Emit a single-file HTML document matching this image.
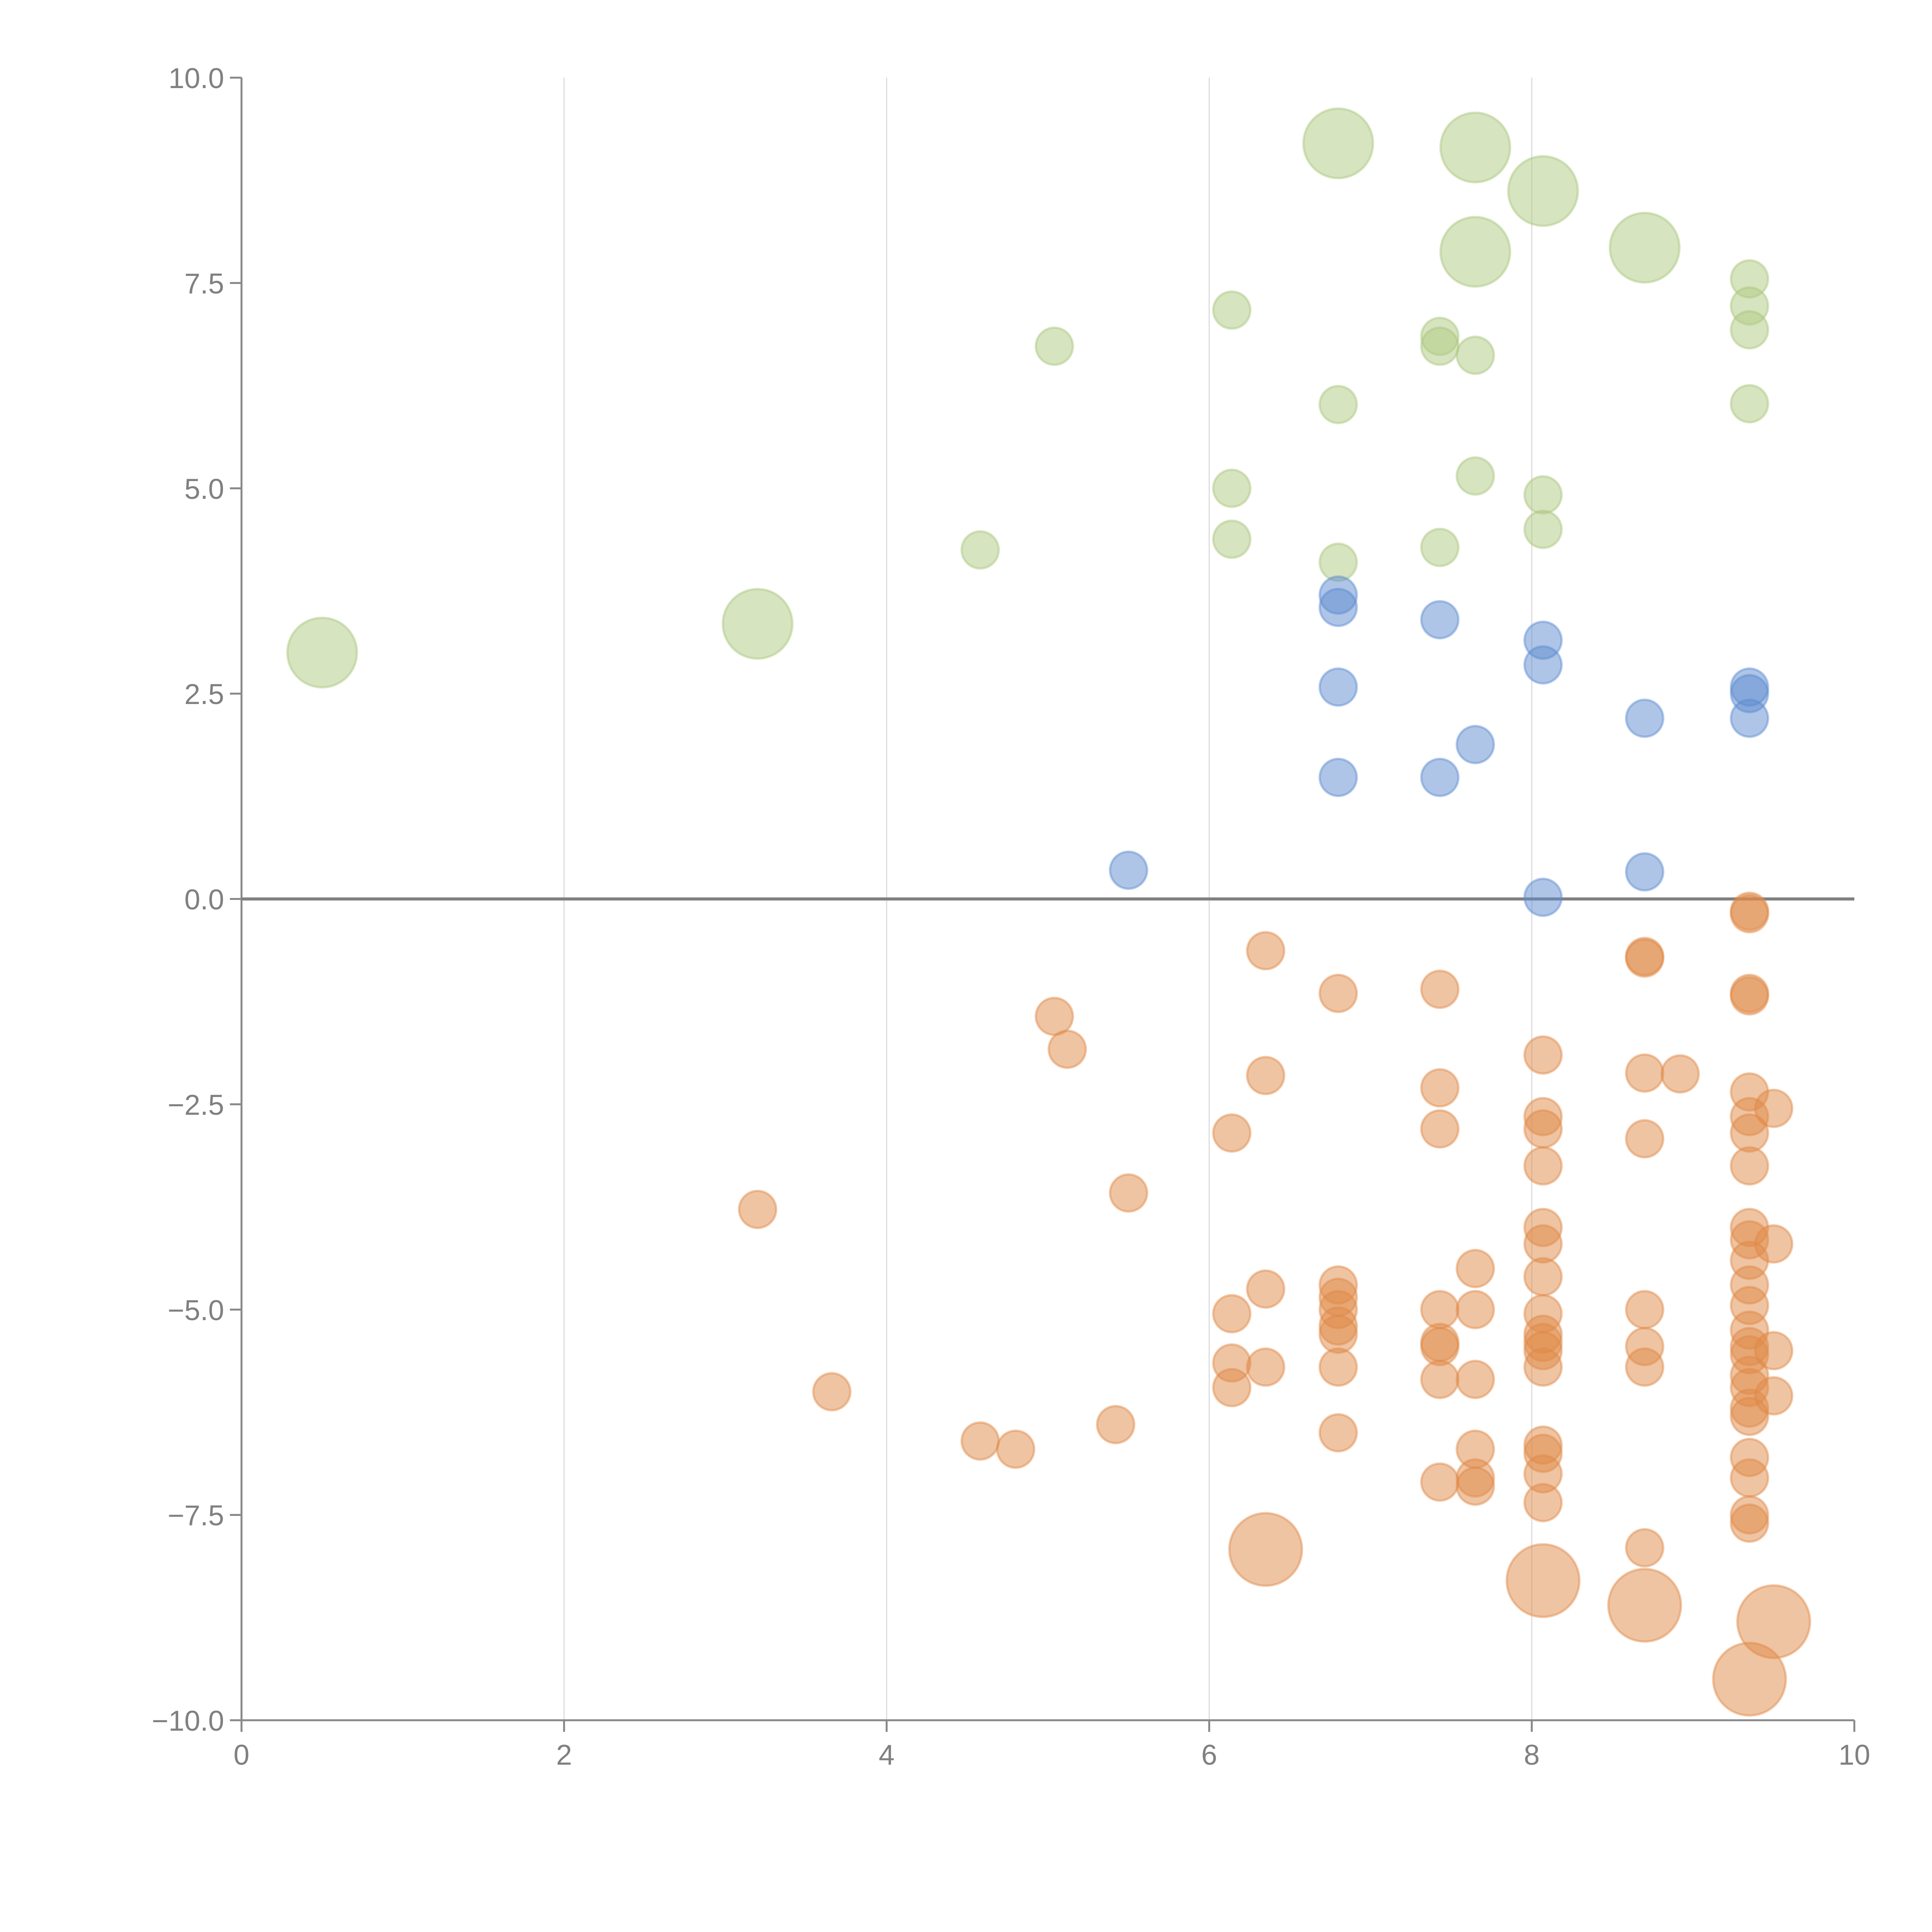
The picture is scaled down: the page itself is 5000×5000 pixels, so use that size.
<!DOCTYPE html>
<html><head><meta charset="utf-8"><style>html,body{margin:0;padding:0;background:#fff}svg{display:block}</style></head>
<body>
<svg id="chart" width="5000" height="5000" viewBox="0 0 5000 5000" xmlns="http://www.w3.org/2000/svg" font-family="Liberation Sans, Arial, sans-serif">
<g id="grid"></g>
<g id="axes"></g>
<g id="marks"></g>
</svg>
<script>
const xTicks=[0,2,4,6,8,10];
const yTicks=[-10,-7.5,-5,-2.5,0,2.5,5,7.5,10];
const yTickLabels=["\u221210.0","\u22127.5","\u22125.0","\u22122.5","0.0","2.5","5.0","7.5","10.0"];
const greenLargeX=[0.5,3.2,6.8,7.65,8.07,7.65,8.7];
const greenLargeY=[3.0,3.35,9.2,9.15,8.62,7.88,7.93];
const greenSmallX=[4.58,5.04,6.14,6.14,6.14,6.8,6.8,7.43,7.43,7.65,7.65,7.43,8.07,8.07,9.35,9.35,9.35,9.35];
const greenSmallY=[4.25,6.73,7.17,5.0,4.38,6.02,4.1,6.85,6.73,6.62,5.15,4.28,4.92,4.5,7.55,7.22,6.93,6.03];
const blueX=[5.5,6.8,6.8,6.8,6.8,7.43,7.43,7.65,8.07,8.07,8.07,8.7,8.7,9.35,9.35,9.35];
const blueY=[0.35,3.7,3.55,2.58,1.48,3.4,1.48,1.88,3.15,2.85,0.02,2.2,0.33,2.58,2.5,2.2];
const orangeSmallX=[6.35,6.8,7.43,5.04,5.12,6.35,6.14,7.43,7.43,8.07,8.07,8.07,8.07,8.7,8.92,8.7,9.35,9.35,8.7,8.7,9.35,9.35,9.35,9.35,9.35,9.35,9.5,3.2,5.5,3.66,4.58,4.8,5.42,6.14,6.14,6.14,6.35,6.35,6.8,6.8,6.8,6.8,6.8,6.8,6.8,7.43,7.43,7.43,7.43,7.43,7.65,7.65,7.65,7.65,7.65,7.65,8.07,8.07,8.07,8.07,8.07,8.07,8.07,8.07,8.07,8.07,8.07,8.07,8.7,8.7,8.7,9.35,9.35,9.35,9.35,9.35,9.35,9.35,9.35,9.35,9.35,9.35,9.35,9.35,9.35,9.35,9.35,9.5,9.5,9.5,8.7];
const orangeSmallY=[-0.63,-1.15,-1.1,-1.43,-1.83,-2.15,-2.85,-2.3,-2.8,-1.9,-2.65,-2.8,-3.25,-2.12,-2.13,-2.92,-0.15,-0.18,-0.7,-0.72,-1.15,-1.18,-2.35,-2.65,-2.85,-3.25,-2.55,-3.78,-3.58,-6.0,-6.6,-6.7,-6.4,-5.05,-5.65,-5.95,-4.75,-5.7,-4.7,-4.85,-5.0,-5.2,-5.3,-5.7,-6.5,-5.0,-5.4,-5.45,-5.85,-7.1,-4.5,-5.0,-5.85,-6.7,-7.05,-7.15,-4.0,-4.2,-4.6,-5.05,-5.3,-5.4,-5.5,-5.7,-6.65,-6.75,-7.0,-7.35,-5.0,-5.45,-5.7,-4.0,-4.15,-4.4,-4.7,-4.95,-5.25,-5.45,-5.55,-5.8,-5.95,-6.2,-6.3,-6.8,-7.05,-7.5,-7.6,-4.2,-5.5,-6.05,-7.9];
const orangeLargeX=[6.35,8.07,8.7,9.5,9.35];
const orangeLargeY=[-7.92,-8.3,-8.6,-8.8,-9.5];

const NS="http://www.w3.org/2000/svg";
const X0=625,X1=4799,Y0=4452,Y1=201;
const sx=v=>X0+(v-0)/(10-0)*(X1-X0);
const sy=v=>Y0-(v+10)/20*(Y0-Y1);
function mk(tag,attrs,parent){const e=document.createElementNS(NS,tag);for(const k in attrs)e.setAttribute(k,attrs[k]);parent.appendChild(e);return e;}
const grid=document.getElementById('grid'),axes=document.getElementById('axes'),marks=document.getElementById('marks');
xTicks.forEach(t=>{if(t>0&&t<10){const l=mk('line',{x1:sx(t),x2:sx(t),y1:Y1,y2:Y0,stroke:'#dcdcdc','stroke-width':3},grid);

}});
const ya=mk('line',{x1:X0,x2:X0,y1:Y1,y2:Y0+30,stroke:'#888','stroke-width':5},axes);


const xa=mk('line',{x1:X0-30,x2:X1,y1:Y0,y2:Y0,stroke:'#888','stroke-width':5},axes);


xTicks.forEach(t=>{const tk=mk('line',{x1:sx(t),x2:sx(t),y1:Y0,y2:Y0+30,stroke:'#888','stroke-width':5},axes);


const tx=mk('text',{x:sx(t),y:Y0+115,'text-anchor':'middle','font-size':74,fill:'#808080'},axes);tx.textContent=String(t);

});
yTicks.forEach((t,i)=>{const tk=mk('line',{x1:X0-30,x2:X0,y1:sy(t),y2:sy(t),stroke:'#888','stroke-width':5},axes);


const tx=mk('text',{x:X0-45,y:sy(t)+27,'text-anchor':'end','font-size':74,fill:'#808080'},axes);tx.textContent=yTickLabels[i];

});
const zl=mk('line',{x1:X0,x2:X1,y1:sy(0),y2:sy(0),stroke:'#808080','stroke-width':8},axes);


function series(xs,ys,r,fill,stroke,name){xs.forEach((x,i)=>{const c=mk('circle',{cx:sx(x),cy:sy(ys[i]),r:r,fill:fill,'fill-opacity':0.5,stroke:stroke,'stroke-opacity':0.45,'stroke-width':6},marks);

});}
series(greenSmallX,greenSmallY,48,'#afc982','#a8c67c','green-point');
series(greenLargeX,greenLargeY,90,'#afc982','#a8c67c','green-bubble');
series(blueX,blueY,48,'#5e8bd0','#5e8bd0','blue-point');
series(orangeSmallX,orangeSmallY,48,'#e08a48','#e08a48','orange-point');
series(orangeLargeX,orangeLargeY,94,'#e08a48','#e08a48','orange-bubble');
</script>
</body></html>
